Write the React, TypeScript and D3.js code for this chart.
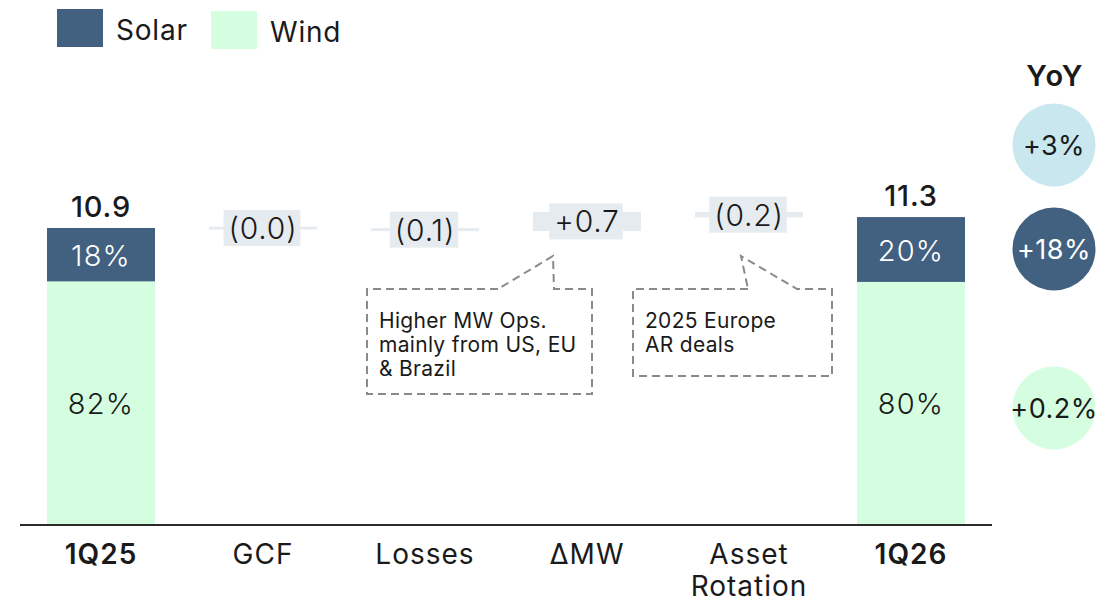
import React, { useEffect, useRef } from "react";
import * as d3 from "d3";

const categories = ["1Q25", "GCF", "Losses", "ΔMW", "Asset|Rotation", "1Q26"];
const boldCategories = ["1Q25", "1Q26"];
const startTotal = 10.9;
const endTotal = 11.3;
const windValues = [8.94, 8.92];
const solarShare = [18, 20];
const windShare = [82, 80];
const stepValues = [-0.01, -0.1, 0.7, -0.2];
const stepLabels = ["(0.0)", "(0.1)", "+0.7", "(0.2)"];
const yoyLabels = ["+3%", "+18%", "+0.2%"];
const callouts = [
  { step: 2, lines: ["Higher MW Ops.", "mainly from US, EU", "& Brazil"] },
  { step: 3, lines: ["2025 Europe", "AR deals"] },
];

const W = 1120;
const H = 603;
const FONT = "Inter, 'Open Sans', sans-serif";
const SOLAR = "#42607f";
const WIND = "#d4fedf";
const STEP = "#e6ebf0";
const TEXT = "#1a1a1a";

export default function App() {
  const ref = useRef<SVGSVGElement | null>(null);

  useEffect(() => {
    const svg = d3.select(ref.current);
    svg.selectAll("*").remove();

    const x = d3.scaleBand<string>().domain(categories).range([20, 992]).paddingInner(1 / 3).paddingOuter(1 / 6);
    const y = d3.scaleLinear().domain([0, 12]).range([525, 525 - 12 * 27.25]);
    const bw = x.bandwidth();

    // Legend
    const legend = [
      { name: "Solar", color: SOLAR, x: 57, y: 9 },
      { name: "Wind", color: WIND, x: 211, y: 11 },
    ];
    legend.forEach((l) => {
      svg.append("rect").attr("x", l.x).attr("y", l.y).attr("width", 46).attr("height", 38).attr("fill", l.color);
      svg.append("text").attr("x", l.x + 59).attr("y", l.y + 31).attr("font-family", FONT)
        .attr("font-size", 28).attr("letter-spacing", 0.8).attr("fill", TEXT).text(l.name);
    });

    // End bars
    const ends = [
      { cat: categories[0], total: startTotal, windV: windValues[0], solar: solarShare[0], wind: windShare[0] },
      { cat: categories[5], total: endTotal, windV: windValues[1], solar: solarShare[1], wind: windShare[1] },
    ];
    ends.forEach((e) => {
      const x0 = x(e.cat)!;
      const windV = e.windV;
      svg.append("rect").attr("x", x0).attr("width", bw).attr("y", y(windV)).attr("height", y(0) - y(windV)).attr("fill", WIND);
      svg.append("rect").attr("x", x0).attr("width", bw).attr("y", y(e.total)).attr("height", y(windV) - y(e.total)).attr("fill", SOLAR);
      svg.append("text").attr("x", x0 + bw / 2).attr("y", (y(windV) + y(0)) / 2 + 11).attr("text-anchor", "middle")
        .attr("font-family", FONT).attr("font-size", 29).attr("letter-spacing", 1.2).attr("font-weight", 300).attr("fill", TEXT).text(`${e.wind}%`);
      svg.append("text").attr("x", x0 + bw / 2).attr("y", (y(windV) + y(e.total)) / 2 + 11).attr("text-anchor", "middle")
        .attr("font-family", FONT).attr("font-size", 29).attr("letter-spacing", 1.2).attr("font-weight", 300).attr("fill", "#fff").text(`${e.solar}%`);
      svg.append("text").attr("x", x0 + bw / 2).attr("y", y(e.total) - 11).attr("text-anchor", "middle")
        .attr("font-family", FONT).attr("font-size", 29).attr("letter-spacing", 0.8).attr("font-weight", 500).attr("fill", TEXT).text(e.total.toFixed(1));
    });

    // Steps
    let run = startTotal;
    const stepGeom: { cx: number; top: number; bottom: number }[] = [];
    stepValues.forEach((v, i) => {
      const cat = categories[i + 1];
      const a = run;
      const b = run + v;
      run = b;
      let top = y(Math.max(a, b));
      let bottom = y(Math.min(a, b));
      if (bottom - top < 3) {
        const mid = (top + bottom) / 2;
        top = mid - 1.5;
        bottom = mid + 1.5;
      }
      const x0 = x(cat)!;
      svg.append("rect").attr("x", x0).attr("width", bw).attr("y", top).attr("height", bottom - top).attr("fill", STEP);
      const cy = (top + bottom) / 2;
      stepGeom.push({ cx: x0 + bw / 2, top, bottom });
      const g = svg.append("g");
      const rect = g.append("rect").attr("fill", STEP);
      const t = g.append("text").attr("x", x0 + bw / 2).attr("y", cy + 11).attr("text-anchor", "middle")
        .attr("font-family", FONT).attr("font-size", 30).attr("font-weight", 300).attr("letter-spacing", 0.8)
        .attr("fill", TEXT).text(stepLabels[i]);
      const bb = (t.node() as SVGTextElement).getBBox();
      rect.attr("x", bb.x - 5).attr("width", bb.width + 8).attr("y", cy - 18).attr("height", 36);
    });

    // Axis line
    svg.append("line").attr("x1", 20).attr("x2", 992).attr("y1", 525).attr("y2", 525).attr("stroke", "#2a2a2a").attr("stroke-width", 2);

    // Category labels
    categories.forEach((c) => {
      const lines = c.split("|");
      const t = svg.append("text").attr("x", x(c)! + bw / 2).attr("y", 564).attr("text-anchor", "middle")
        .attr("font-family", FONT).attr("font-size", 28).attr("letter-spacing", 1)
        .attr("font-weight", boldCategories.includes(c) ? 600 : 400).attr("fill", TEXT);
      lines.forEach((l, i) => t.append("tspan").attr("x", x(c)! + bw / 2).attr("dy", i === 0 ? 0 : 32).text(l));
    });

    // Callouts
    const boxes = [
      { x: 367, y: 289, w: 225, h: 105, base: [498, 554], tipDx: -34 },
      { x: 633, y: 289, w: 199, h: 87, base: [748, 797], tipDx: -8 },
    ];
    callouts.forEach((co, k) => {
      const b = boxes[k];
      const sg = stepGeom[co.step];
      const tipX = sg.cx + b.tipDx;
      const tipY = 256;
      const path = d3.path();
      path.moveTo(b.base[0], b.y);
      path.lineTo(b.x, b.y);
      path.lineTo(b.x, b.y + b.h);
      path.lineTo(b.x + b.w, b.y + b.h);
      path.lineTo(b.x + b.w, b.y);
      path.lineTo(b.base[1], b.y);
      path.lineTo(tipX, tipY);
      path.closePath();
      svg.append("path").attr("d", path.toString()).attr("fill", "#fff").attr("stroke", "#8a8a8a")
        .attr("stroke-width", 2).attr("stroke-dasharray", "8,5");
      co.lines.forEach((l, i) => {
        svg.append("text").attr("x", b.x + 12).attr("y", b.y + 39 + i * 24).attr("font-family", FONT)
          .attr("font-size", 21).attr("letter-spacing", 0.3).attr("fill", TEXT).text(l);
      });
    });

    // YoY
    svg.append("text").attr("x", 1055).attr("y", 86).attr("text-anchor", "middle").attr("font-family", FONT)
      .attr("font-size", 29).attr("letter-spacing", 1.5).attr("font-weight", 600).attr("fill", TEXT).text("YoY");
    const yoy = [
      { label: yoyLabels[0], cy: 145, fill: "#c8e7ee", color: TEXT },
      { label: yoyLabels[1], cy: 249, fill: SOLAR, color: "#fff" },
      { label: yoyLabels[2], cy: 408, fill: WIND, color: TEXT },
    ];
    yoy.forEach((o) => {
      svg.append("circle").attr("cx", 1054).attr("cy", o.cy).attr("r", 41.5).attr("fill", o.fill);
      svg.append("text").attr("x", 1054).attr("y", o.cy + 10).attr("text-anchor", "middle").attr("font-family", FONT)
        .attr("font-size", 27).attr("letter-spacing", 0.5).attr("fill", o.color).text(o.label);
    });
  }, []);

  return (
    <svg ref={ref} width={W} height={H} style={{ position: "absolute", left: 0, top: 0, background: "#fff" }} />
  );
}
